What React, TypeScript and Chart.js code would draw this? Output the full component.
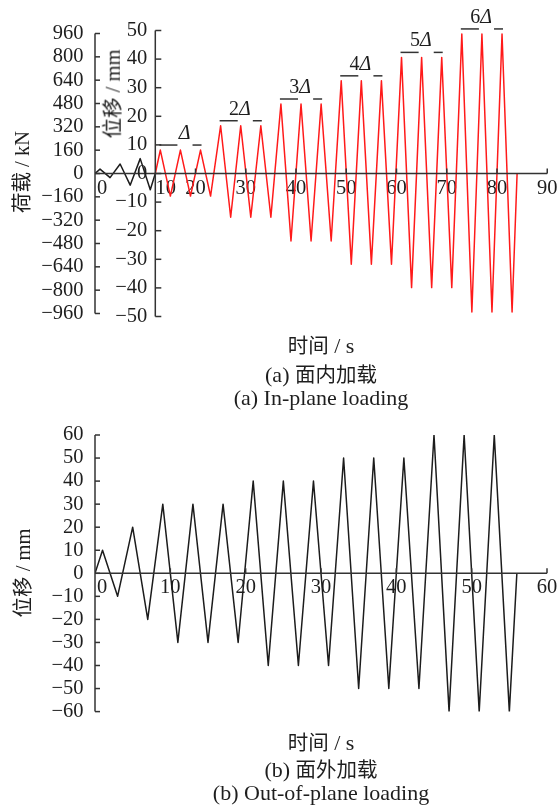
import React, { useEffect, useRef } from "react";
import { Chart, registerables } from "chart.js";

Chart.register(...registerables);

// ---------- data ----------
const loadTicks = [960, 800, 640, 480, 320, 160, 0, -160, -320, -480, -640, -800, -960];
const dispTicks = [50, 40, 30, 20, 10, 0, -10, -20, -30, -40, -50];
const timeTicksA = [0, 10, 20, 30, 40, 50, 60, 70, 80, 90];
const outTicks = [60, 50, 40, 30, 20, 10, 0, -10, -20, -30, -40, -50, -60];
const timeTicksB = [0, 10, 20, 30, 40, 50, 60];

// (a) in-plane: load-controlled part (kN)
const loadTimes = [0, 1, 3, 5, 7, 9, 11, 12];
const loadValues = [0, 30, -28, 65, -80, 102, -112, 0];

// (a) in-plane: displacement-controlled part (mm)
const dispTimes = [
  12, 13, 15, 17, 19, 21, 23, 25, 27, 29, 31, 33, 35, 37, 39, 41, 43, 45, 47,
  49, 51, 53, 55, 57, 59, 61, 63, 65, 67, 69, 71, 73, 75, 77, 79, 81, 83, 84,
];
const dispValues = [
  0,
  8.2, -7.9, 8.2, -7.9, 8.2, -7.9,
  16.7, -15.3, 16.7, -15.3, 16.7, -15.3,
  24.3, -23.6, 24.3, -23.6, 24.3, -23.6,
  32.4, -31.7, 32.4, -31.7, 32.4, -31.7,
  40.6, -39.9, 40.6, -39.9, 40.6, -39.9,
  48.8, -48.4, 48.8, -48.4, 48.8, -48.4,
  0,
];
const deltaLabels = ["Δ", "2Δ", "3Δ", "4Δ", "5Δ", "6Δ"];
const dispAxisAt = 12;

// (b) out-of-plane (mm)
const outTimes = [
  0, 1, 3, 5, 7, 9, 11, 13, 15, 17, 19, 21, 23, 25, 27, 29, 31, 33, 35, 37,
  39, 41, 43, 45, 47, 49, 51, 53, 55, 56,
];
const outValues = [
  0, 10, -10, 20, -20,
  30, -30, 30, -30, 30, -30,
  40, -40, 40, -40, 40, -40,
  50, -50, 50, -50, 50, -50,
  60, -60, 60, -60, 60, -60,
  0,
];

// ---------- styles ----------
const SERIF = '"Liberation Serif", "Noto Sans CJK SC", serif';
const TEXT = "#1e1e1e";
const AXIS = "#333333";
const TICK_FONT = { family: SERIF, size: 20.5 };

const fmt = (v: number) => (v < 0 ? "\u2212" + Math.abs(v) : String(v));

const seg = (ctx: CanvasRenderingContext2D, a: number, b: number, c: number, d: number) => {
  ctx.beginPath();
  ctx.moveTo(a, b);
  ctx.lineTo(c, d);
  ctx.stroke();
};

const topAxesPlugin = {
  id: "topAxes",
  afterDatasetsDraw(chart: any) {
    const { ctx } = chart;
    const x = chart.scales.x;
    const y = chart.scales.y;
    const y2 = chart.scales.y2;
    ctx.save();
    ctx.strokeStyle = AXIS;
    ctx.lineWidth = 1.5;
    const x0 = x.getPixelForValue(0);
    // load axis
    seg(ctx, x0, y.getPixelForValue(loadTicks[0]), x0, y.getPixelForValue(loadTicks[loadTicks.length - 1]));
    loadTicks.forEach((v) => {
      const p = y.getPixelForValue(v);
      seg(ctx, x0, p, x0 + 5, p);
    });
    // displacement axis
    const xd = x.getPixelForValue(dispAxisAt);
    seg(ctx, xd, y2.getPixelForValue(dispTicks[0]), xd, y2.getPixelForValue(dispTicks[dispTicks.length - 1]));
    dispTicks.forEach((v) => {
      const p = y2.getPixelForValue(v);
      seg(ctx, xd, p, xd + 6, p);
    });
    // time axis
    const yz = y.getPixelForValue(0);
    seg(ctx, x0, yz, x.getPixelForValue(timeTicksA[timeTicksA.length - 1]), yz);
    timeTicksA.forEach((v) => {
      if (v === 0) return;
      const p = x.getPixelForValue(v);
      seg(ctx, p, yz, p, yz - 5);
    });
    // displacement labels
    ctx.fillStyle = TEXT;
    ctx.font = `20.5px ${SERIF}`;
    ctx.textAlign = "right";
    ctx.textBaseline = "middle";
    dispTicks.forEach((v) => ctx.fillText(fmt(v), xd - 8, y2.getPixelForValue(v)));
    // level annotations
    deltaLabels.forEach((lab, L) => {
      const i1 = 1 + 6 * L;
      const t1 = x.getPixelForValue(dispTimes[i1]);
      const t2 = x.getPixelForValue(dispTimes[i1 + 2]);
      const t3 = x.getPixelForValue(dispTimes[i1 + 4]);
      const py = y2.getPixelForValue(dispValues[i1]) - 5;
      seg(ctx, t1 - 1, py, t2 - 3, py);
      seg(ctx, t3 - 8, py, t3 + 1, py);
      const rx = t2 + 10;
      const num = lab.slice(0, -1);
      const del = lab.slice(-1);
      ctx.textBaseline = "alphabetic";
      ctx.textAlign = "right";
      ctx.font = `italic 20px ${SERIF}`;
      ctx.fillText(del, rx, py - 6);
      const w = ctx.measureText(del).width;
      if (num) {
        ctx.font = `20px ${SERIF}`;
        ctx.fillText(num, rx - w, py - 6);
      }
    });
    ctx.restore();
  },
};

const botAxesPlugin = {
  id: "botAxes",
  afterDatasetsDraw(chart: any) {
    const { ctx } = chart;
    const x = chart.scales.x;
    const y = chart.scales.y;
    ctx.save();
    ctx.strokeStyle = AXIS;
    ctx.lineWidth = 1.5;
    const x0 = x.getPixelForValue(0);
    seg(ctx, x0, y.getPixelForValue(outTicks[0]), x0, y.getPixelForValue(outTicks[outTicks.length - 1]));
    outTicks.forEach((v) => {
      const p = y.getPixelForValue(v);
      seg(ctx, x0, p, x0 + 5, p);
    });
    const yz = y.getPixelForValue(0);
    seg(ctx, x0, yz, x.getPixelForValue(timeTicksB[timeTicksB.length - 1]), yz);
    timeTicksB.forEach((v) => {
      if (v === 0) return;
      const p = x.getPixelForValue(v);
      seg(ctx, p, yz, p, yz - 5);
    });
    ctx.restore();
  },
};

const xLabelA = (v: number) => {
  if (v === 0) return "\u2002\u2009" + "0";
  if (v === 10) return "\u2002\u2002\u2002\u2002" + "10";
  return String(v);
};
const xLabelB = (v: number) => (v === 0 ? "\u2002\u2009" + "0" : String(v));

function topConfig(): any {
  return {
    type: "line",
    data: {
      datasets: [
        {
          data: loadTimes.map((t, i) => ({ x: t, y: loadValues[i] })),
          yAxisID: "y",
          borderColor: "#1c1c1c",
          borderWidth: 1.5,
          pointRadius: 0,
          fill: false,
          tension: 0,
          borderJoinStyle: "round",
        },
        {
          data: dispTimes.map((t, i) => ({ x: t, y: dispValues[i] })),
          yAxisID: "y2",
          borderColor: "#ff1a1a",
          borderWidth: 1.5,
          pointRadius: 0,
          fill: false,
          tension: 0,
          borderJoinStyle: "round",
        },
      ],
    },
    options: {
      responsive: false,
      animation: false,
      events: [],
      layout: { padding: { left: 0, right: 12, top: 30.5, bottom: 809 - 316.5 } },
      plugins: { legend: { display: false }, tooltip: { enabled: false } },
      scales: {
        x: {
          type: "linear",
          min: 0,
          max: 90,
          position: { y: 0 },
          grid: { display: false, drawTicks: false },
          border: { display: false },
          afterBuildTicks: (s: any) => {
            s.ticks = timeTicksA.map((v) => ({ value: v }));
          },
          ticks: {
            autoSkip: false,
            maxRotation: 0,
            minRotation: 0,
            padding: 2.5,
            font: TICK_FONT,
            color: TEXT,
            callback: (v: any) => xLabelA(Number(v)),
          },
        },
        y: {
          type: "linear",
          position: "left",
          min: -980.6,
          max: 980.6,
          grid: { display: false, drawTicks: false },
          border: { display: false },
          afterBuildTicks: (s: any) => {
            s.ticks = loadTicks.map((v) => ({ value: v }));
          },
          afterFit: (s: any) => {
            s.width = 95;
          },
          ticks: {
            autoSkip: false,
            padding: 11.5,
            font: TICK_FONT,
            color: TEXT,
            callback: (v: any) => fmt(Number(v)),
          },
        },
        y2: {
          type: "linear",
          display: false,
          position: "right",
          min: -50,
          max: 50,
        },
      },
    },
    plugins: [topAxesPlugin],
  };
}

function botConfig(): any {
  return {
    type: "line",
    data: {
      datasets: [
        {
          data: outTimes.map((t, i) => ({ x: t, y: outValues[i] })),
          borderColor: "#1c1c1c",
          borderWidth: 1.5,
          pointRadius: 0,
          fill: false,
          tension: 0,
          borderJoinStyle: "round",
        },
      ],
    },
    options: {
      responsive: false,
      animation: false,
      events: [],
      layout: { padding: { left: 0, right: 13, top: 435, bottom: 809 - 711.6 } },
      plugins: { legend: { display: false }, tooltip: { enabled: false } },
      scales: {
        x: {
          type: "linear",
          min: 0,
          max: 60,
          position: { y: 0 },
          grid: { display: false, drawTicks: false },
          border: { display: false },
          afterBuildTicks: (s: any) => {
            s.ticks = timeTicksB.map((v) => ({ value: v }));
          },
          ticks: {
            autoSkip: false,
            maxRotation: 0,
            minRotation: 0,
            padding: 2.5,
            font: TICK_FONT,
            color: TEXT,
            callback: (v: any) => xLabelB(Number(v)),
          },
        },
        y: {
          type: "linear",
          position: "left",
          min: -60,
          max: 60,
          grid: { display: false, drawTicks: false },
          border: { display: false },
          afterBuildTicks: (s: any) => {
            s.ticks = outTicks.map((v) => ({ value: v }));
          },
          afterFit: (s: any) => {
            s.width = 95;
          },
          ticks: {
            autoSkip: false,
            padding: 11.5,
            font: TICK_FONT,
            color: TEXT,
            callback: (v: any) => fmt(Number(v)),
          },
        },
      },
    },
    plugins: [botAxesPlugin],
  };
}

const RotTitle = ({ text, cx, cy }: { text: string; cx: number; cy: number }) => (
  <div
    style={{
      position: "absolute",
      left: cx,
      top: cy,
      transform: "translate(-50%, -50%) rotate(-90deg)",
      whiteSpace: "nowrap",
      fontFamily: SERIF,
      fontSize: 20.5,
      lineHeight: 1,
      color: TEXT,
    }}
  >
    {text}
  </div>
);

const Caption = ({ cjk, latin, prefix, cy }: { cjk?: string; latin?: string; prefix?: string; cy: number }) => (
  <div
    style={{
      position: "absolute",
      left: 321,
      top: cy,
      transform: "translate(-50%, -50%)",
      whiteSpace: "nowrap",
      fontFamily: SERIF,
      fontSize: 22,
      lineHeight: 1,
      color: TEXT,
    }}
  >
    {prefix ? <span>{prefix}</span> : null}
    {cjk ? <span style={{ fontSize: 20.5 }}>{cjk}</span> : null}
    {latin ? <span>{latin}</span> : null}
  </div>
);

export default function App() {
  const topRef = useRef<HTMLCanvasElement>(null);
  const botRef = useRef<HTMLCanvasElement>(null);

  useEffect(() => {
    const c1 = new Chart(topRef.current as HTMLCanvasElement, topConfig());
    const c2 = new Chart(botRef.current as HTMLCanvasElement, botConfig());
    return () => {
      c1.destroy();
      c2.destroy();
    };
  }, []);

  return (
    <div
      style={{
        position: "absolute",
        left: 0,
        top: 0,
        width: 560,
        height: 809,
        background: "#ffffff",
        overflow: "hidden",
      }}
    >
      <canvas ref={topRef} width={560} height={809} style={{ position: "absolute", left: 0, top: 0 }} />
      <canvas ref={botRef} width={560} height={809} style={{ position: "absolute", left: 0, top: 0 }} />

      <RotTitle text="荷载 / kN" cx={21.5} cy={171.5} />
      <RotTitle text="位移 / mm" cx={113} cy={93.5} />
      <Caption cjk="时间" latin=" / s" cy={346} />
      <Caption prefix="(a) " cjk="面内加载" cy={375} />
      <Caption latin="(a) In-plane loading" cy={398} />

      <RotTitle text="位移 / mm" cx={22.5} cy={573} />
      <Caption cjk="时间" latin=" / s" cy={743} />
      <Caption prefix="(b) " cjk="面外加载" cy={770} />
      <Caption latin="(b) Out-of-plane loading" cy={793} />
    </div>
  );
}
